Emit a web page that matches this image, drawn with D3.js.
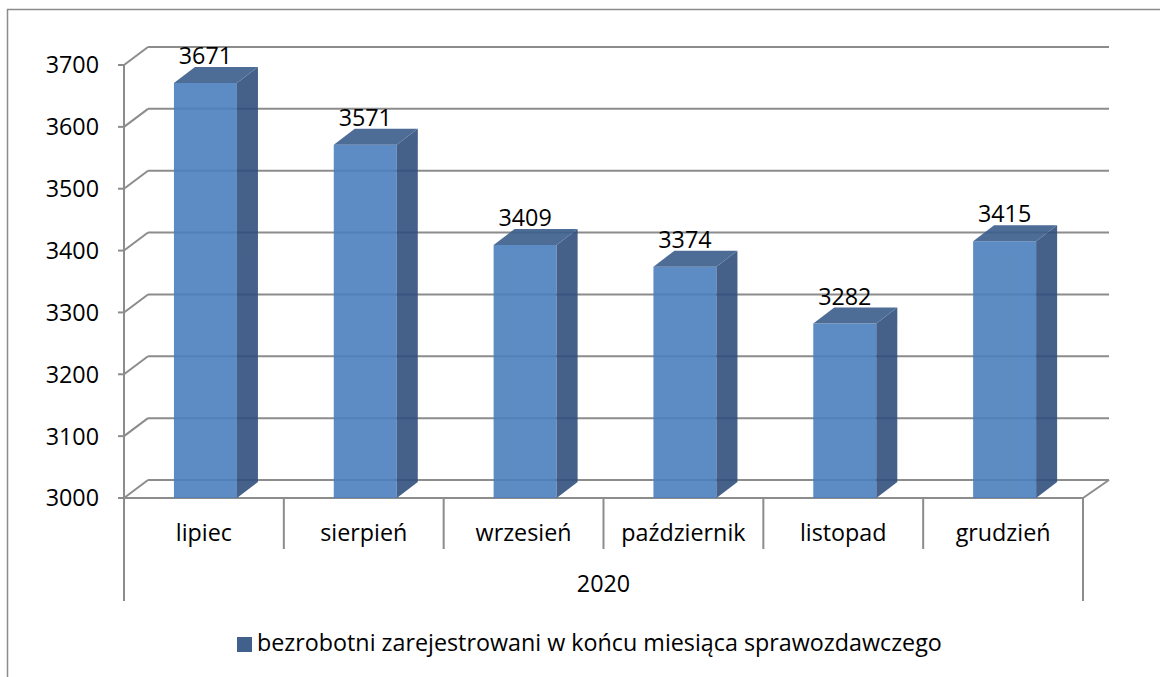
<!DOCTYPE html>
<html>
<head>
<meta charset="utf-8">
<script src="https://cdn.jsdelivr.net/npm/d3@7"></script>
<style>
  body { margin: 0; background: #fff; }
  text { font-family: "Open Sans", "Noto Sans", sans-serif; fill: #000; }
</style>
</head>
<body>
<div id="chart"></div>
<script>
// data
var months = ["lipiec", "sierpień", "wrzesień", "październik", "listopad", "grudzień"];
var values = [3671, 3571, 3409, 3374, 3282, 3415];
var yTicks = [3000, 3100, 3200, 3300, 3400, 3500, 3600, 3700];
var yearLabel = "2020";
var seriesName = "bezrobotni zarejestrowani w końcu miesiąca sprawozdawczego";

var W = 1160, H = 677;
var fontSize = 23.3;
var floorLeft = 124, floorRight = 1083;
var wall = {dx: 24, dy: -18};   // depth of the back wall
var depth = {dx: 21, dy: -16};  // depth of each column

var svg = d3.select("#chart").append("svg")
  .attr("width", W)
  .attr("height", H);

// chart border (cut off at right and bottom)
svg.append("rect")
  .attr("x", 7.5).attr("y", 9.5)
  .attr("width", W).attr("height", H + 20)
  .attr("fill", "none")
  .attr("stroke", "#8c8c8c")
  .attr("stroke-width", 1.5);

var y = d3.scaleLinear()
  .domain([3000, 3700])
  .range([498, 65]);

var x = d3.scaleBand()
  .domain(months)
  .range([floorLeft, floorRight]);

var bar = d3.scaleBand()
  .domain(months)
  .range([floorLeft, floorRight])
  .paddingInner(0.6)
  .paddingOuter(0.3);

var grid = svg.append("g")
  .attr("stroke", "#8c8c8c")
  .attr("stroke-width", 2)
  .attr("fill", "none");

// back wall gridlines + diagonals to the front axis
yTicks.forEach(function(t) {
  grid.append("line")
    .attr("x1", floorLeft + wall.dx).attr("x2", floorRight + wall.dx + 2)
    .attr("y1", y(t) + wall.dy).attr("y2", y(t) + wall.dy);
  grid.append("line")
    .attr("x1", floorLeft).attr("x2", floorLeft + wall.dx)
    .attr("y1", y(t)).attr("y2", y(t) + wall.dy);
  grid.append("line")
    .attr("x1", floorLeft - 6).attr("x2", floorLeft)
    .attr("y1", y(t)).attr("y2", y(t));
});

// floor: right diagonal
grid.append("line")
  .attr("x1", floorRight).attr("x2", floorRight + wall.dx + 2)
  .attr("y1", y(3000)).attr("y2", y(3000) + wall.dy);

// front axis line
grid.append("line")
  .attr("x1", floorLeft).attr("x2", floorLeft)
  .attr("y1", y(3700)).attr("y2", 601);

// category dividers
var bounds = months.map(function(m) { return x(m); }).concat([floorRight]);
bounds.forEach(function(b, i) {
  var outer = (i == 0 || i == bounds.length - 1);
  grid.append("line")
    .attr("x1", b).attr("x2", b)
    .attr("y1", y(3000)).attr("y2", outer ? 601 : 549);
});

// front floor line
grid.append("line")
  .attr("x1", floorLeft).attr("x2", floorRight)
  .attr("y1", y(3000)).attr("y2", y(3000));

// columns
var cols = svg.append("g").selectAll(".col")
  .data(months)
  .enter().append("g")
  .attr("class", "col")
  .attr("opacity", 0.9);

function face(d, i) {
  return {x0: bar(d) + 2, x1: bar(d) + 2 + 63, top: y(values[i]), bottom: y(3000)};
}

cols.append("path")
  .attr("fill", "#4b80bd")
  .attr("d", function(d, i) {
    var f = face(d, i);
    return "M" + f.x0 + "," + f.top + "H" + f.x1 + "V" + f.bottom + "H" + f.x0 + "Z";
  });

cols.append("path")
  .attr("fill", "#314f7d")
  .attr("d", function(d, i) {
    var f = face(d, i);
    return "M" + f.x1 + "," + f.top +
      "L" + (f.x1 + depth.dx) + "," + (f.top + depth.dy) +
      "L" + (f.x1 + depth.dx) + "," + (f.bottom + depth.dy) +
      "L" + f.x1 + "," + f.bottom + "Z";
  });

cols.append("path")
  .attr("fill", "#3a5e8c")
  .attr("d", function(d, i) {
    var f = face(d, i);
    return "M" + f.x0 + "," + f.top +
      "L" + (f.x0 + depth.dx) + "," + (f.top + depth.dy) +
      "L" + (f.x1 + depth.dx) + "," + (f.top + depth.dy) +
      "L" + f.x1 + "," + f.top + "Z";
  });

// value labels
svg.append("g").selectAll("text")
  .data(months)
  .enter().append("text")
  .attr("x", function(d, i) { var f = face(d, i); return (f.x0 + f.x1) / 2; })
  .attr("y", function(d, i) { return y(values[i]) - 19; })
  .attr("text-anchor", "middle")
  .attr("font-size", fontSize)
  .text(function(d, i) { return values[i]; });

// y tick labels
svg.append("g").selectAll("text")
  .data(yTicks)
  .enter().append("text")
  .attr("x", 99)
  .attr("y", function(d) { return y(d); })
  .attr("dy", "0.36em")
  .attr("text-anchor", "end")
  .attr("font-size", fontSize)
  .text(function(d) { return d; });

// category labels
svg.append("g").selectAll("text")
  .data(months)
  .enter().append("text")
  .attr("x", function(d) { return x(d) + x.bandwidth() / 2; })
  .attr("y", 541)
  .attr("text-anchor", "middle")
  .attr("font-size", fontSize)
  .text(function(d) { return d; });

svg.append("text")
  .attr("x", (floorLeft + floorRight) / 2)
  .attr("y", 592)
  .attr("text-anchor", "middle")
  .attr("font-size", fontSize)
  .text(yearLabel);

// legend
svg.append("rect")
  .attr("x", 237).attr("y", 637)
  .attr("width", 15).attr("height", 15)
  .attr("fill", "#41608c");

svg.append("text")
  .attr("x", 257).attr("y", 651)
  .attr("font-size", fontSize)
  .text(seriesName);
</script>
</body>
</html>
